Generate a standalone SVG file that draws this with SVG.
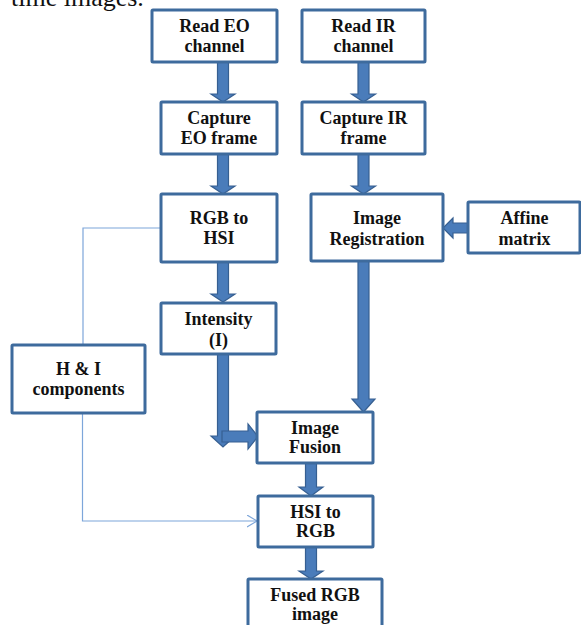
<svg xmlns="http://www.w3.org/2000/svg" width="581" height="625" viewBox="0 0 581 625">
<defs>
<style>
.box{fill:#fff;stroke:#3e6b9d;stroke-width:3}
.t{font-family:"Liberation Serif","Times New Roman",serif;font-weight:bold;font-size:18px;fill:#111;text-anchor:middle}
.arr{fill:#4a7cba;stroke:#365f91;stroke-width:1.2;stroke-linejoin:miter}
.thin{fill:none;stroke:#7da6da;stroke-width:1.2}
</style>
<marker id="chev" markerWidth="12" markerHeight="14" refX="10" refY="6" orient="auto" markerUnits="userSpaceOnUse">
<path d="M0,0 L10,6 L0,12" fill="none" stroke="#7da6da" stroke-width="1.2"/>
</marker>
</defs>
<rect width="581" height="625" fill="#fff"/>
<text x="11" y="6" font-family="'Liberation Serif','Times New Roman',serif" font-size="26" fill="#111">time images.</text>

<g id="connectors">
<polygon class="arr" points="217.5,62 228.5,62 228.5,94 235,94 223,102 211,94 217.5,94"/>
<polygon class="arr" points="217.5,154 228.5,154 228.5,186 235,186 223,194 211,186 217.5,186"/>
<polygon class="arr" points="217.5,262 228.5,262 228.5,294 235,294 223,302 211,294 217.5,294"/>
<polygon class="arr" points="358,62 369,62 369,94 375.5,94 363.5,102 351.5,94 358,94"/>
<polygon class="arr" points="358,154 369,154 369,186 375.5,186 363.5,194 351.5,186 358,186"/>
<polygon class="arr" points="358,261 369,261 369,399 375,399 363.5,412 352,399 358,399"/>
<polygon class="arr" points="468,223 453,223 453,218 443,228 453,238 453,233 468,233"/>
<polygon class="arr" points="217.5,354 228.5,354 228.5,436 235,436 223,447 211,436 217.5,436"/>
<polygon class="arr" points="222,431 248,431 248,424 258,436.5 248,449 248,442 222,442"/>
<polygon class="arr" points="305.5,463 316.5,463 316.5,487 323,487 311,496 299,487 305.5,487"/>
<polygon class="arr" points="305.5,547 316.5,547 316.5,571 323,571 311,579 299,571 305.5,571"/>
<path class="thin" d="M161,228 H83 V345"/>
<path class="thin" d="M82.5,413 V521 H257" marker-end="url(#chev)"/>
</g>

<g id="read-eo"><rect class="box" x="152" y="10" width="125" height="52" rx="1"/>
<text class="t" x="214.5" y="32">Read EO</text><text class="t" x="214.5" y="52">channel</text></g>

<g id="capture-eo"><rect class="box" x="161" y="102" width="116" height="52" rx="1"/>
<text class="t" x="219" y="124">Capture</text><text class="t" x="219" y="144">EO frame</text></g>

<g id="rgb-to-hsi"><rect class="box" x="161" y="194" width="116" height="68" rx="1"/>
<text class="t" x="219" y="224">RGB to</text><text class="t" x="219" y="244">HSI</text></g>

<g id="intensity"><rect class="box" x="161" y="303" width="115" height="51" rx="1"/>
<text class="t" x="218.5" y="325">Intensity</text><text class="t" x="218.5" y="346">(I)</text></g>

<g id="hi-components"><rect class="box" x="12" y="345" width="133" height="68" rx="1"/>
<text class="t" x="78.5" y="375">H &amp; I</text><text class="t" x="78.5" y="395">components</text></g>

<g id="read-ir"><rect class="box" x="302" y="10" width="123" height="52" rx="1"/>
<text class="t" x="363.5" y="32">Read IR</text><text class="t" x="363.5" y="52">channel</text></g>

<g id="capture-ir"><rect class="box" x="302" y="102" width="123" height="52" rx="1"/>
<text class="t" x="363.5" y="124">Capture IR</text><text class="t" x="363.5" y="144">frame</text></g>

<g id="image-registration"><rect class="box" x="311" y="194" width="132" height="67" rx="1"/>
<text class="t" x="377" y="224">Image</text><text class="t" x="377" y="245">Registration</text></g>

<g id="affine-matrix"><rect class="box" x="468" y="202" width="112" height="51" rx="1"/>
<text class="t" x="524.5" y="224">Affine</text><text class="t" x="524.5" y="245">matrix</text></g>

<g id="image-fusion"><rect class="box" x="257" y="412" width="116" height="51" rx="1"/>
<text class="t" x="315" y="434">Image</text><text class="t" x="315" y="453">Fusion</text></g>

<g id="hsi-to-rgb"><rect class="box" x="258" y="496" width="115" height="51" rx="1"/>
<text class="t" x="315.5" y="518">HSI to</text><text class="t" x="315.5" y="537">RGB</text></g>

<g id="fused-rgb"><rect class="box" x="248" y="579" width="134" height="60" rx="1"/>
<text class="t" x="315" y="601">Fused RGB</text><text class="t" x="315" y="620">image</text></g>
</svg>
